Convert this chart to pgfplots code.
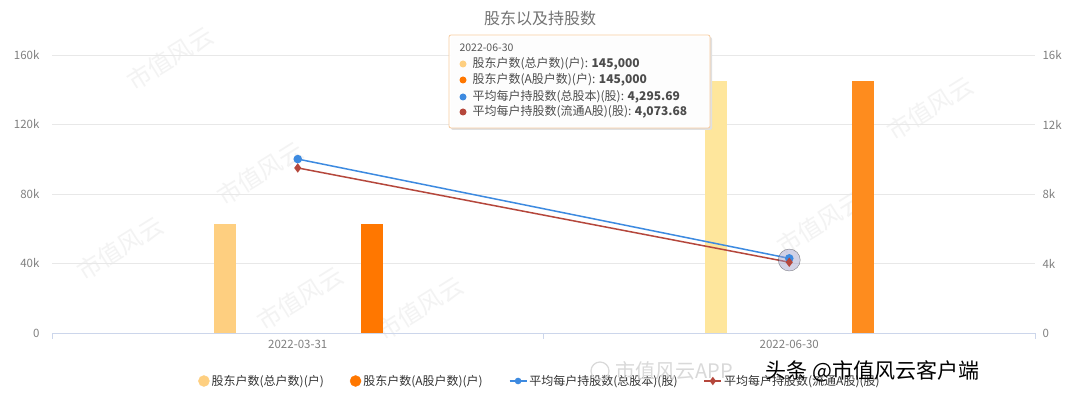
\documentclass[border=0pt]{standalone}
\usepackage{pgfplots}
\pgfplotsset{compat=1.18}
\usepackage{fontspec}
\setmainfont{Noto Sans CJK SC}
\definecolor{lightA}{HTML}{FECF80}
\definecolor{lightB}{HTML}{FEE69C}
\definecolor{orangeA}{HTML}{FF7700}
\definecolor{orangeB}{HTML}{FE8C1E}
\definecolor{blueL}{HTML}{3D8AE0}
\definecolor{redL}{HTML}{B5473C}
\definecolor{gridc}{HTML}{E8E8E8}
\definecolor{axisc}{HTML}{CCD6EB}
\definecolor{tickc}{HTML}{808080}
\definecolor{wm}{HTML}{F3F3F3}
\begin{document}
\begin{tikzpicture}[x=1pt,y=1pt]
\path[use as bounding box, fill=white] (0,0) rectangle (1080,398);
% faint diagonal watermarks
\foreach \x/\y in {170/340, 260/225, 300/100, 820/175, 120/150, 930/290, 420/90}
  \node[rotate=32, text=wm, font=\fontsize{24}{24}\selectfont] at (\x,\y) {市值风云};
\node[text=tickc!90!black, font=\fontsize{16}{18}\selectfont] at (540,380) {股东以及持股数};
\begin{axis}[
  at={(52pt,65pt)}, anchor=south west,
  width=983pt, height=278pt, scale only axis,
  xmin=-0.5, xmax=1.5, ymin=0, ymax=160000,
  scaled y ticks=false,
  axis x line*=bottom, axis y line*=left,
  y axis line style={draw=none},
  x axis line style={draw=axisc, line width=0.8pt},
  xtick={0,1}, xticklabels={2022-03-31,2022-06-30},
  minor xtick={-0.5,0.5,1.5},
  minor tick length=6pt, major tick length=0pt,
  tick align=outside,
  minor x tick style={draw=axisc, line width=0.8pt},
  ytick={0,40000,80000,120000,160000},
  yticklabels={0,40k,80k,120k,160k},
  ytick style={draw=none},
  ymajorgrids, grid style={draw=gridc, line width=0.8pt},
  tick label style={text=tickc, font=\fontsize{11.5}{13}\selectfont},
  /pgf/number format/assume math mode=true,
  yticklabel style={xshift=-9pt},
  xticklabel style={yshift=-4pt},
  legend columns=4,
  legend style={at={(0.4964,-0.1727)}, anchor=center, draw=none, fill=none,
    font=\fontsize{12}{14}\selectfont, text=black!80,
    /tikz/every even column/.append style={column sep=24pt}},
  legend cell align=left,
]
\addlegendimage{legend image code/.code={\fill[lightA] (0.3cm,0) circle (5.5pt);}}
\addlegendentry{股东户数(总户数)(户)}
\addlegendimage{legend image code/.code={\fill[orangeA] (0.3cm,0) circle (5.5pt);}}
\addlegendentry{股东户数(A股户数)(户)}
\addlegendimage{blueL, line width=1.5pt, mark=*, mark size=2.5pt}
\addlegendentry{平均每户持股数(总股本)(股)}
\addlegendimage{redL, line width=1.5pt, mark=diamond*, mark size=3pt}
\addlegendentry{平均每户持股数(流通A股)(股)}
\addplot[ybar, bar width=22pt, bar shift=-73pt, fill=lightA, draw=none, forget plot] coordinates {(0,62500)};
\addplot[ybar, bar width=22pt, bar shift=-73pt, fill=lightB, draw=none, forget plot] coordinates {(1,145000)};
\addplot[ybar, bar width=22pt, bar shift=74pt, fill=orangeA, draw=none, forget plot] coordinates {(0,62500)};
\addplot[ybar, bar width=22pt, bar shift=74pt, fill=orangeB, draw=none, forget plot] coordinates {(1,145000)};
\end{axis}
\begin{axis}[
  at={(52pt,65pt)}, anchor=south west,
  width=983pt, height=278pt, scale only axis,
  xmin=-0.5, xmax=1.5, ymin=0, ymax=16000,
  scaled y ticks=false,
  axis x line=none, axis y line*=right,
  y axis line style={draw=none},
  ytick={0,4000,8000,12000,16000},
  yticklabels={0,4k,8k,12k,16k},
  ytick style={draw=none},
  tick label style={text=tickc, font=\fontsize{11.5}{13}\selectfont},
  /pgf/number format/assume math mode=true,
  yticklabel style={xshift=4pt},
]
\addplot[only marks, mark=*, mark size=11pt, mark options={fill=blue!30!gray!60, draw=none, opacity=0.45}] coordinates {(1,4200)};
\addplot[blueL, line width=1.5pt, mark=*, mark size=3.5pt] coordinates {(0,10010) (1,4295.69)};
\addplot[redL, line width=1.5pt, mark=diamond*, mark size=3.5pt] coordinates {(0,9500) (1,4073.68)};
\end{axis}
% tooltip
\fill[black!12, rounded corners=2pt] (451,268) rectangle (712,361);
\draw[fill=white, fill opacity=0.95, draw=brown!30!orange!40, line width=0.8pt, rounded corners=2pt] (449,270) rectangle (710,363);
\node[anchor=west, text=black!65, font=\fontsize{10.5}{12}\selectfont] at (456,350) {2022-06-30};
\fill[lightA] (463,334) circle (3.5pt);
\fill[orangeA] (463,318) circle (3.5pt);
\fill[blueL] (463,301) circle (3.5pt);
\fill[redL] (463,286) circle (3.5pt);
\begin{scope}[every node/.style={anchor=west, text=black!70, font=\fontsize{12}{14}\selectfont}]
\node at (469,334) {股东户数(总户数)(户): \textbf{145,000}};
\node at (469,318) {股东户数(A股户数)(户): \textbf{145,000}};
\node at (469,301) {平均每户持股数(总股本)(股): \textbf{4,295.69}};
\node at (469,286) {平均每户持股数(流通A股)(股): \textbf{4,073.68}};
\end{scope}
% overlay watermarks
\draw[black!15, line width=1.2pt] (600,27) circle (9pt);
\node[anchor=west, text=black!15, font=\fontsize{20}{22}\selectfont] at (612,27) {市值风云APP};
\node[anchor=west, text=black, font=\fontsize{21}{24}\selectfont] at (762,27) {头条 @市值风云客户端};
\end{tikzpicture}
\end{document}
